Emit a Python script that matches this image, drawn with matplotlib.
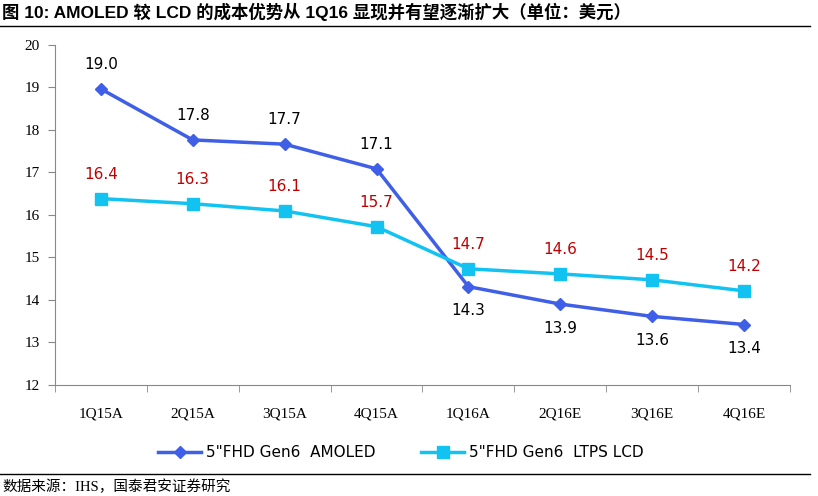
import numpy as np
import matplotlib.pyplot as plt
from matplotlib.lines import Line2D

plt.rcParams['font.family'] = ['Liberation Sans', 'Noto Sans CJK SC', 'DejaVu Sans']

quarters = ['1Q15A', '2Q15A', '3Q15A', '4Q15A', '1Q16A', '2Q16E', '3Q16E', '4Q16E']
amoled = [18.96, 17.76, 17.66, 17.08, 14.31, 13.9, 13.61, 13.42]
amoled_labels = ['19.0', '17.8', '17.7', '17.1', '14.3', '13.9', '13.6', '13.4']
lcd = [16.38, 16.26, 16.09, 15.72, 14.73, 14.61, 14.47, 14.21]
lcd_labels = ['16.4', '16.3', '16.1', '15.7', '14.7', '14.6', '14.5', '14.2']

c_amoled = '#3F5FE6'
c_lcd = '#12C3F2'

fig = plt.figure(figsize=(8.18, 4.96), dpi=100)
ax = fig.add_axes([0.067, 0.224, 0.899, 0.686])

x = np.arange(len(quarters))
ax.plot(x, amoled, color=c_amoled, lw=2.5, marker='D', ms=6, zorder=3)
ax.plot(x, lcd, color=c_lcd, lw=2.5, marker='s', ms=8, zorder=3)

for i, (v, s) in enumerate(zip(amoled, amoled_labels)):
    if i < 4:
        ax.annotate(s, (i, v), xytext=(0, 12), textcoords='offset points',
                    ha='center', va='bottom', fontsize=11, family='DejaVu Sans', color='black')
    else:
        ax.annotate(s, (i, v), xytext=(0, -12), textcoords='offset points',
                    ha='center', va='top', fontsize=11, family='DejaVu Sans', color='black')
for i, (v, s) in enumerate(zip(lcd, lcd_labels)):
    ax.annotate(s, (i, v), xytext=(0, 12), textcoords='offset points',
                ha='center', va='bottom', fontsize=11, family='DejaVu Sans', color='#C00000')

ax.set_xlim(-0.5, len(quarters) - 0.5)
ax.set_ylim(12, 20)
ax.set_yticks(range(12, 21))
ax.set_xticks(x)
ax.set_xticklabels(quarters)
ax.set_xticks(np.arange(-0.5, len(quarters)), minor=True)
ax.tick_params(axis='x', which='major', length=0, pad=16)
ax.tick_params(axis='x', which='minor', length=5, color='#888888')
ax.tick_params(axis='y', length=5, color='#888888', pad=6)
for lab in ax.get_xticklabels() + ax.get_yticklabels():
    lab.set_family('Liberation Serif')
    lab.set_fontsize(11)

for side in ['top', 'right']:
    ax.spines[side].set_visible(False)
for side in ['left', 'bottom']:
    ax.spines[side].set_color('#888888')

handles = [Line2D([], [], color=c_amoled, lw=2.5, marker='D', ms=6),
           Line2D([], [], color=c_lcd, lw=2.5, marker='s', ms=8)]
fig.legend(handles, ['5"FHD Gen6  AMOLED', '5"FHD Gen6  LTPS LCD'],
           loc='center', bbox_to_anchor=(0.49, 0.087), ncol=2, frameon=False,
           prop={'family': 'DejaVu Sans', 'size': 11}, handlelength=2.8,
           columnspacing=3, handletextpad=0.3)

fig.text(0.003, 0.975, '图 10: AMOLED 较 LCD 的成本优势从 1Q16 显现并有望逐渐扩大（单位：美元）',
         fontsize=12.5, fontweight='bold', ha='left', va='center')
fig.add_artist(Line2D([0.0, 0.99], [0.948, 0.948], color='black', lw=1))
fig.add_artist(Line2D([0.0, 0.99], [0.044, 0.044], color='black', lw=1))
fig.text(0.003, 0.018, '数据来源：IHS，国泰君安证券研究', fontsize=10.5,
         family=['Liberation Serif', 'Noto Sans CJK SC'], ha='left', va='center')

fig.savefig('out.png', dpi=100)
